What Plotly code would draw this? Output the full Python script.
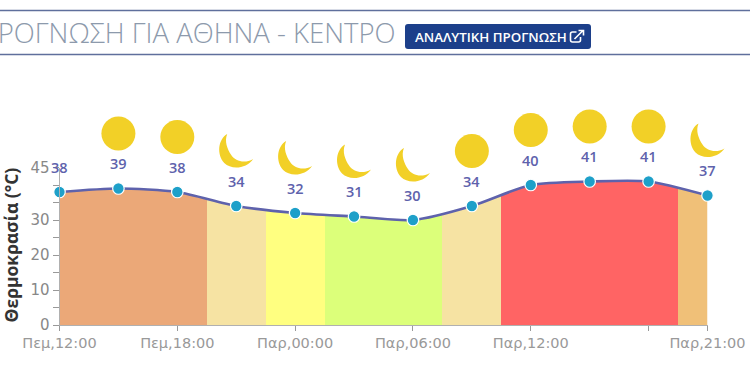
import plotly.graph_objects as go

hours = [0, 3, 6, 9, 12, 15, 18, 21, 24, 27, 30, 33]
temps = [38, 39, 38, 34, 32, 31, 30, 34, 40, 41, 41, 37]
icons = [None, "sun", "sun", "moon", "moon", "moon", "moon", "sun", "sun", "sun", "sun", "moon"]
tick_vals = [0, 6, 12, 18, 24, 30, 33]
tick_text = ["Πεμ,12:00", "Πεμ,18:00", "Παρ,00:00", "Παρ,06:00", "Παρ,12:00", "", "Παρ,21:00"]
y_ticks = [0, 10, 20, 30, 45]
y_minor = [5, 15, 25, 35, 40]
zone_ends = [7.5, 10.5, 13.5, 19.5, 22.5, 31.5, 33]
zone_colors = ["#eba878", "#f6e3a3", "#ffff80", "#dcff7a", "#f6e3a3", "#ff6464", "#f0c078"]

W, H = 750, 375
L, R, T, B = 59.5, 707.5, 167.5, 325.0
SPAN = hours[-1]
YMAX = 45
px_x = (R - L) / SPAN
px_y = (B - T) / YMAX
ICON_DY = 55 / px_y

def X(p):
    return (p - L) / px_x

def Y(p):
    return (B - p) / px_y

stops = []
prev = 0.0
for end, c in zip(zone_ends, zone_colors):
    stops += [[prev / SPAN, c], [end / SPAN, c]]
    prev = end

fig = go.Figure()
fig.add_trace(go.Scatter(
    x=hours, y=temps, mode="lines+markers", cliponaxis=False, fill="tozeroy",
    fillgradient=dict(type="horizontal", colorscale=stops, start=0, stop=SPAN),
    line=dict(color="#5e62ac", width=2.6, shape="spline", smoothing=0.7),
    marker=dict(color="#1ea0c9", size=11.5, line=dict(color="#ffffff", width=1.2)),
    showlegend=False, hoverinfo="skip"))
fig.add_trace(go.Scatter(x=[0], y=[0], xaxis="x2", yaxis="y2", mode="markers",
                         marker=dict(opacity=0), showlegend=False, hoverinfo="skip"))

SUN = "M -17 0 C -17 9.4 -9.4 17 0 17 C 9.4 17 17 9.4 17 0 C 17 -9.4 9.4 -17 0 -17 C -9.4 -17 -17 -9.4 -17 0 Z"
MOON = ("M -9 17 C -18 12 -20 -3 -12 -12 C -5 -19 10 -18 17 -8 "
        "C 8 -13 -1 -10 -5 -4 C -9 2 -12 10 -9 17 Z")
shapes = []
for h, t, ic in zip(hours, temps, icons):
    if ic is None:
        continue
    shapes.append(dict(type="path", xref="x2", yref="y2", xsizemode="pixel", ysizemode="pixel",
                       xanchor=h, yanchor=t + ICON_DY, path=SUN if ic == "sun" else MOON,
                       fillcolor="#f2d027", line=dict(width=0), layer="above"))

def pl(x0, y0, x1, y1, color, width=1.3):
    return dict(type="line", xref="x2", yref="y2", x0=X(x0), x1=X(x1), y0=Y(y0), y1=Y(y1),
                line=dict(color=color, width=width))

shapes += [pl(0, 10.5, W, 10.5, "#5f6f9c"), pl(0, 54.5, W, 54.5, "#5f6f9c")]
BTN = "M 0 3 L 0 22 Q 0 25 3 25 L 183 25 Q 186 25 186 22 L 186 3 Q 186 0 183 0 L 3 0 Q 0 0 0 3 Z"
shapes.append(dict(type="path", xref="x2", yref="y2", xsizemode="pixel", ysizemode="pixel",
                   xanchor=X(405), yanchor=Y(49), path=BTN, fillcolor="#1c3f8a", line=dict(width=0)))
LINK_BOX = "M 10 6 L 10 3 Q 10 1 8 1 L 2 1 Q 0 1 0 3 L 0 9 Q 0 11 2 11 L 6 11"
LINK_ARROW = "M 4 4 L 12 12 M 8 12.5 L 13 12.5 L 13 7.5"
for p in (LINK_BOX, LINK_ARROW):
    shapes.append(dict(type="path", xref="x2", yref="y2", xsizemode="pixel", ysizemode="pixel",
                       xanchor=X(570.5), yanchor=Y(43), path=p,
                       line=dict(color="#ffffff", width=1.6), fillcolor="rgba(0,0,0,0)"))

annotations = []
for h, t in zip(hours, temps):
    annotations.append(dict(x=h, y=t, xref="x2", yref="y2", text=str(t), showarrow=False, yshift=25,
                            xanchor="center", yanchor="middle",
                            font=dict(family="Open Sans", size=14.5, color="#5e62ac", weight=600)))
annotations += [
    dict(x=X(397), y=Y(32), xref="x2", yref="y2", xanchor="right", yanchor="middle",
         text="ΠΡΟΓΝΩΣΗ ΓΙΑ ΑΘΗΝΑ - ΚΕΝΤΡΟ", showarrow=False,
         font=dict(family="Open Sans", size=27.5, color="#8d9aac", weight=300)),
    dict(x=X(413), y=Y(37), xref="x2", yref="y2", xanchor="left", yanchor="middle",
         text="ΑΝΑΛΥΤΙΚΗ ΠΡΟΓΝΩΣΗ", showarrow=False,
         font=dict(family="Open Sans", size=13.3, color="#ffffff", weight=600)),
    dict(x=X(10.5), y=Y(245), xref="x2", yref="y2", xanchor="center", yanchor="middle",
         text="Θερμοκρασία (°C)", textangle=-90, showarrow=False,
         font=dict(family="Open Sans", size=17.5, color="#333333", weight=700)),
]

fig.update_layout(
    width=W, height=H, margin=dict(l=0, r=0, t=0, b=0, autoexpand=False), autosize=False,
    paper_bgcolor="#ffffff", plot_bgcolor="rgba(0,0,0,0)",
    shapes=shapes, annotations=annotations,
    xaxis=dict(domain=[L / W, R / W], range=[0, SPAN], anchor="y", tickmode="array",
               tickvals=tick_vals, ticktext=tick_text, showgrid=False, zeroline=False,
               showline=True, linecolor="#b0b0b0", linewidth=1, ticks="outside", ticklen=5,
               tickcolor="#999999", tickfont=dict(family="DejaVu Sans", size=14.5, color="#999999")),
    yaxis=dict(domain=[1 - B / H, 1 - T / H], range=[0, YMAX], anchor="x", tickmode="array",
               tickvals=y_ticks, ticktext=[str(v) for v in y_ticks], showgrid=False, zeroline=False,
               showline=True, linecolor="#b0b0b0", linewidth=1, ticks="outside", ticklen=6,
               tickcolor="#999999", tickfont=dict(family="DejaVu Sans", size=15, color="#888888"),
               minor=dict(tickmode="array", tickvals=y_minor, ticks="outside", ticklen=6, tickcolor="#999999")),
    xaxis2=dict(domain=[0, 1], range=[-L / px_x, (W - L) / px_x], visible=False, anchor="y2"),
    yaxis2=dict(domain=[0, 1], range=[-(H - B) / px_y, B / px_y], visible=False, anchor="x2"),
)
fig.write_html("out.html", config=dict(displayModeBar=False),
               post_script="document.body.style.margin='0';document.body.style.overflow='hidden';")
